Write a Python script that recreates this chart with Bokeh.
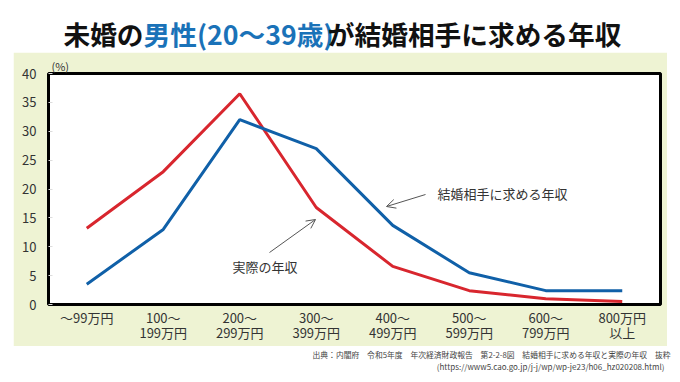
from bokeh.plotting import figure
from bokeh.models import (Range1d, FixedTicker, Label, Arrow, OpenHead, Spacer)
from bokeh.layouts import column, row
from bokeh.embed import file_html
from bokeh.resources import INLINE

# ---- data ----
categories = ["～99万円", "100～\n199万円", "200～\n299万円", "300～\n399万円",
              "400～\n499万円", "500～\n599万円", "600～\n799万円", "800万円\n以上"]
desired = [3.5, 13.0, 32.0, 27.0, 13.7, 5.5, 2.4, 2.4]   # 結婚相手に求める年収
actual = [13.2, 23.0, 36.5, 16.8, 6.6, 2.4, 1.0, 0.5]    # 実際の年収
y_ticks = [0, 5, 10, 15, 20, 25, 30, 35, 40]

FONT = "Noto Sans CJK JP"
RED = "#d8262e"
BLUE = "#1060a8"
GREEN_BG = "#eef3d3"

W = 678
TOP_H = 52          # title band
PANEL_L, PANEL_R, PANEL_B = 13, 667, 346
FR_L, FR_R, FR_T, FR_B = 48, 660, 73, 304
SRC_H = 380 - PANEL_B

def blank(width, height, y0, y1):
    f = figure(width=width, height=height, output_backend="svg", toolbar_location=None,
               x_range=Range1d(0, width), y_range=Range1d(y1, y0),
               x_axis_type=None, y_axis_type=None,
               min_border_left=0, min_border_right=0, min_border_top=0, min_border_bottom=0)
    f.outline_line_color = None
    f.grid.visible = False
    f.background_fill_color = "white"
    f.border_fill_color = "white"
    return f

# ---- title band ----
t = blank(W, TOP_H, 0, TOP_H)
TFS = 26.7
cx = 63
segs = [("未婚の", "#111111", 3.0), ("男性(20～39歳)", "#1a72b8", 6.9), ("が結婚相手に求める年収", "#111111", 11.0)]
for txt, col, wem in segs:
    t.add_layout(Label(x=cx, y=33, text=txt, text_font=FONT, text_font_size=f"{TFS}px",
                       text_font_style="bold", text_color=col, text_align="left",
                       text_baseline="middle"))
    cx += wem * TFS

# ---- main chart ----
PW = PANEL_R - PANEL_L
PH = PANEL_B - TOP_H
p = figure(width=PW, height=PH, output_backend="svg", toolbar_location=None,
           x_range=Range1d(-0.5, len(categories) - 0.5), y_range=Range1d(0, 40),
           min_border_left=FR_L - PANEL_L, min_border_right=PANEL_R - FR_R,
           min_border_top=FR_T - TOP_H, min_border_bottom=PANEL_B - FR_B)
p.border_fill_color = GREEN_BG
p.background_fill_color = "white"
p.outline_line_color = "black"
p.outline_line_width = 3
p.grid.visible = False

p.title.text = "(%)"
p.title.align = "left"
p.title.offset = 3
p.title.standoff = 0
p.title.text_font = FONT
p.title.text_font_size = "11px"
p.title.text_font_style = "normal"
p.title.text_color = "#333333"

def X(px):
    return -0.5 + (px - FR_L) / (FR_R - FR_L) * len(categories)
def Y(py):
    return (FR_B - py) / (FR_B - FR_T) * 40

xs = list(range(len(categories)))
p.line(xs, actual, line_color=RED, line_width=3)
p.line(xs, desired, line_color=BLUE, line_width=3)

p.xaxis.ticker = FixedTicker(ticks=xs)
p.xaxis.major_label_overrides = {i: c for i, c in enumerate(categories)}
p.xaxis.axis_line_color = None
p.xaxis.major_tick_line_color = None
p.xaxis.major_tick_in = 0
p.xaxis.major_tick_out = 0
p.xaxis.minor_tick_line_color = None
p.xaxis.minor_tick_out = 0
p.xaxis.major_label_text_font = FONT
p.xaxis.major_label_text_font_size = "13px"
p.xaxis.major_label_text_color = "#333333"
p.xaxis.major_label_text_line_height = 0.82
p.xaxis.major_label_standoff = 3

p.yaxis.ticker = FixedTicker(ticks=y_ticks)
p.yaxis.axis_line_color = None
p.yaxis.major_tick_in = 4
p.yaxis.major_tick_out = 0
p.yaxis.major_tick_line_color = "#dddddd"
p.yaxis.minor_tick_line_color = None
p.yaxis.major_label_text_font = FONT
p.yaxis.major_label_text_font_size = "13px"
p.yaxis.major_label_text_color = "#333333"
p.yaxis.major_label_standoff = 12

p.add_layout(Label(x=X(437), y=Y(193), text="結婚相手に求める年収", text_font=FONT,
                   text_font_size="13px", text_color="#333333", text_align="left",
                   text_baseline="middle"))
p.add_layout(Arrow(end=OpenHead(size=9, line_color="#555555", line_width=1),
                   x_start=X(425), y_start=Y(194), x_end=X(386), y_end=Y(206),
                   line_color="#555555", line_width=1))
p.add_layout(Label(x=X(232), y=Y(266), text="実際の年収", text_font=FONT,
                   text_font_size="13px", text_color="#333333", text_align="left",
                   text_baseline="middle"))
p.add_layout(Arrow(end=OpenHead(size=9, line_color="#555555", line_width=1),
                   x_start=X(269), y_start=Y(252), x_end=X(315), y_end=Y(219),
                   line_color="#555555", line_width=1))

# ---- source band ----
s = blank(W, SRC_H, PANEL_B, PANEL_B + SRC_H)
s.add_layout(Label(x=670, y=354, text="出典：内閣府　令和5年度　年次経済財政報告　第2-2-8図　結婚相手に求める年収と実際の年収　抜粋",
                   text_font=FONT, text_font_size="7.8px", text_color="#444444",
                   text_align="right", text_baseline="middle"))
s.add_layout(Label(x=664, y=366, text="(https://www5.cao.go.jp/j-j/wp/wp-je23/h06_hz020208.html)",
                   text_font=FONT, text_font_size="8px", text_color="#444444",
                   text_align="right", text_baseline="middle"))

layout = column(t, row(Spacer(width=PANEL_L, height=PH), p), s)
open("out.html", "w").write(file_html(layout, INLINE))
